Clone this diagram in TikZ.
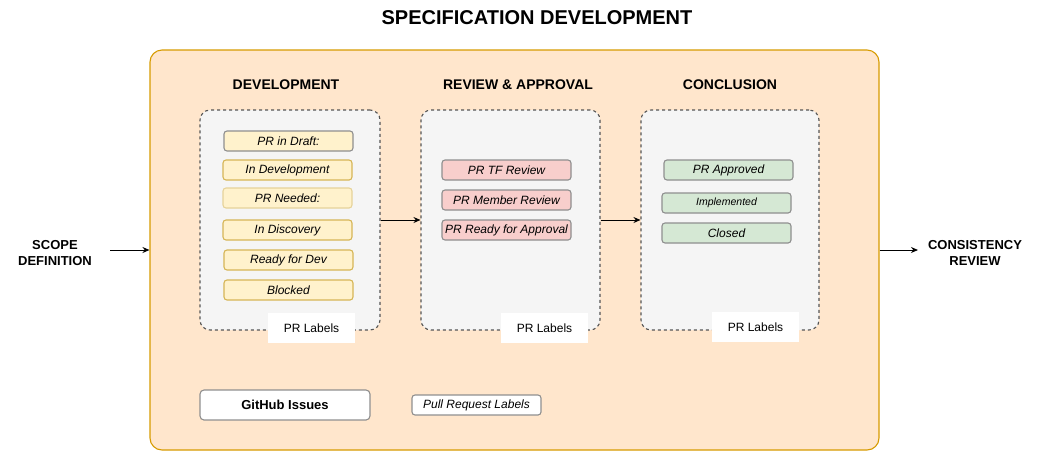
\documentclass[tikz,border=0pt]{standalone}
\usepackage{fontspec}
\setmainfont{Liberation Sans}
\usetikzlibrary{arrows.meta}

\definecolor{outerfill}{HTML}{FFE6CC}
\definecolor{outerline}{HTML}{D79B00}
\definecolor{stagefill}{HTML}{F5F5F5}
\definecolor{stageline}{HTML}{555555}
\definecolor{yellowfill}{HTML}{FFF2CC}
\definecolor{yellowline}{HTML}{D6B656}
\definecolor{redfill}{HTML}{F8CECC}
\definecolor{greenfill}{HTML}{D5E8D4}
\definecolor{labelline}{HTML}{8F8F8F}

\tikzset{
  every node/.style={line width=1.1pt},
  phase/.style={draw=outerline, fill=outerfill, rounded corners=12pt, minimum width=729pt, minimum height=400pt, inner sep=0pt},
  stagebox/.style={draw=stageline, fill=stagefill, dash pattern=on 3pt off 3pt, rounded corners=10pt, minimum height=220pt, inner sep=0pt},
  tagbox/.style={rounded corners=3pt, minimum width=129pt, minimum height=20pt, inner sep=0pt, font=\fontsize{12}{14}\selectfont\itshape},
  yellowtag/.style={tagbox, draw=yellowline, fill=yellowfill},
  redtag/.style={tagbox, draw=labelline, fill=redfill},
  greentag/.style={tagbox, draw=labelline, fill=greenfill},
  caption/.style={fill=white, minimum width=87pt, minimum height=30pt, inner sep=0pt, font=\fontsize{12}{14}\selectfont},
  heading/.style={font=\fontsize{14}{16}\selectfont\bfseries},
  sidelabel/.style={align=center, font=\fontsize{13}{16}\selectfont\bfseries},
  flow/.style={-{Stealth[length=7pt,width=6pt]}, line width=1pt},
}

\begin{document}
\begin{tikzpicture}[x=1pt,y=-1pt]
\useasboundingbox (0,0) rectangle (1039,451);

\node (title) at (537,18) {\fontsize{20}{23}\selectfont\bfseries SPECIFICATION DEVELOPMENT};
\node[phase] (outer) at (514.5,250) {};

% stages
\node[stagebox, minimum width=180pt] (devbox) at (290,220) {};
\node[stagebox, minimum width=179pt] (revbox) at (510.5,220) {};
\node[stagebox, minimum width=178pt] (conbox) at (730,220) {};

\node[heading] (devhead) at (286,85) {DEVELOPMENT};
\node[heading] (revhead) at (518,85) {REVIEW \& APPROVAL};
\node[heading] (conhead) at (730,85) {CONCLUSION};

\node[caption] (devcap) at (311.5,328) {PR Labels};
\node[caption] (revcap) at (544.5,328) {PR Labels};
\node[caption] (concap) at (755.5,327) {PR Labels};

% development labels
\node[yellowtag, draw=labelline] (draft) at (288.5,141) {PR in Draft:};
\node[yellowtag] (indev) at (287.5,170) {In Development};
\node[yellowtag, draw=yellowline!60] (needed) at (287.5,198) {PR Needed:};
\node[yellowtag] (discovery) at (287.5,230) {In Discovery};
\node[yellowtag] (ready) at (288.5,260) {Ready for Dev};
\node[yellowtag] (blocked) at (288.5,290) {Blocked};

% review labels
\node[redtag] (tfreview) at (506.5,170) {PR TF Review};
\node[redtag] (memreview) at (506.5,200) {PR Member Review};
\node[redtag] (approval) at (506.5,230) {PR Ready for Approval};

% conclusion labels
\node[greentag] (approved) at (728.5,170) {PR Approved};
\node[greentag, font=\fontsize{10.5}{12}\selectfont\itshape] (implemented) at (726.5,203) {Implemented};
\node[greentag] (closed) at (726.5,233) {Closed};

% legend
\node[draw=labelline, fill=white, rounded corners=4pt, minimum width=170pt, minimum height=30pt, font=\fontsize{13}{15}\selectfont\bfseries] (issues) at (285,405) {GitHub Issues};
\node[tagbox, draw=labelline, fill=white] (prlabels) at (476.5,405) {Pull Request Labels};

% outside
\node[sidelabel] (scope) at (55,253) {SCOPE\\DEFINITION};
\node[sidelabel] (consistency) at (975,253) {CONSISTENCY\\REVIEW};
\coordinate (scopeout) at (110,250);
\coordinate (consin) at (918,250);

\draw[flow] (scopeout) to (outer.west);
\draw[flow] (devbox.east) to (revbox.west);
\draw[flow] (revbox.east) to (conbox.west);
\draw[flow] (outer.east) to (consin);
\end{tikzpicture}
\end{document}
